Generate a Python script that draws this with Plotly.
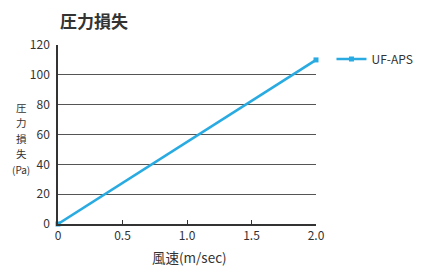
import plotly.graph_objects as go

wind_speed = [0, 2.0]
pressure_loss = [0, 110]
series_name = "UF-APS"
x_ticks = [0, 0.5, 1.0, 1.5, 2.0]
x_tick_text = ["0", "0.5", "1.0", "1.5", "2.0"]
y_ticks = [0, 20, 40, 60, 80, 100, 120]
y_title_chars = ["圧", "力", "損", "失"]

font_family = "Noto Sans CJK JP, Noto Sans, sans-serif"
line_color = "#29abe2"
text_color = "#333333"

fig = go.Figure()
fig.add_trace(go.Scatter(
    x=wind_speed, y=pressure_loss, name=series_name,
    mode="lines+markers",
    line=dict(color=line_color, width=2.5),
    marker=dict(symbol="square", size=5, color=line_color),
    cliponaxis=False,
))

plot_top, plot_bottom = 45, 224
def py(p):
    return (plot_bottom - p) / (plot_bottom - plot_top)

annotations = [
    dict(text="<b>圧力損失</b>", xref="paper", yref="paper", x=0.0, y=1.0,
         xanchor="left", yanchor="bottom", yshift=10, showarrow=False,
         font=dict(size=17, color=text_color)),
    dict(text="(Pa)", xref="paper", yref="paper", x=0, y=py(169),
         xanchor="center", yanchor="middle", xshift=-37, showarrow=False,
         font=dict(size=10, color=text_color)),
    dict(text="風速(m/sec)", xref="paper", yref="paper", x=0.51, y=py(257),
         xanchor="center", yanchor="middle", showarrow=False,
         font=dict(size=13.5, color=text_color)),
]
for i, ch in enumerate(y_title_chars):
    annotations.append(dict(text=ch, xref="paper", yref="paper", x=0, y=py(107.5 + 15.3 * i),
                            xanchor="center", yanchor="middle", xshift=-37, showarrow=False,
                            font=dict(size=10.5, color=text_color)))

fig.update_layout(
    width=430, height=273,
    margin=dict(l=58, r=114, t=45, b=49),
    paper_bgcolor="white", plot_bgcolor="white",
    font=dict(family=font_family, color=text_color, size=12),
    showlegend=True,
    legend=dict(x=1.06, y=py(59), xanchor="left", yanchor="middle",
                font=dict(size=12, color=text_color), bgcolor="rgba(0,0,0,0)"),
    xaxis=dict(range=[0, 2.0], tickvals=x_ticks, ticktext=x_tick_text,
               showgrid=False, zeroline=False, showline=True, linecolor=text_color, linewidth=1.5,
               ticks="inside", ticklen=4, tickcolor=text_color, tickwidth=1,
               tickfont=dict(size=12, color=text_color)),
    yaxis=dict(range=[0, 120], tickvals=y_ticks,
               showgrid=True, gridcolor="#555555", gridwidth=1.3, zeroline=False,
               showline=True, linecolor=text_color, linewidth=1.5,
               ticks="", ticklabelstandoff=4,
               tickfont=dict(size=12, color=text_color)),
    annotations=annotations,
)

fig.write_html("out.html")
